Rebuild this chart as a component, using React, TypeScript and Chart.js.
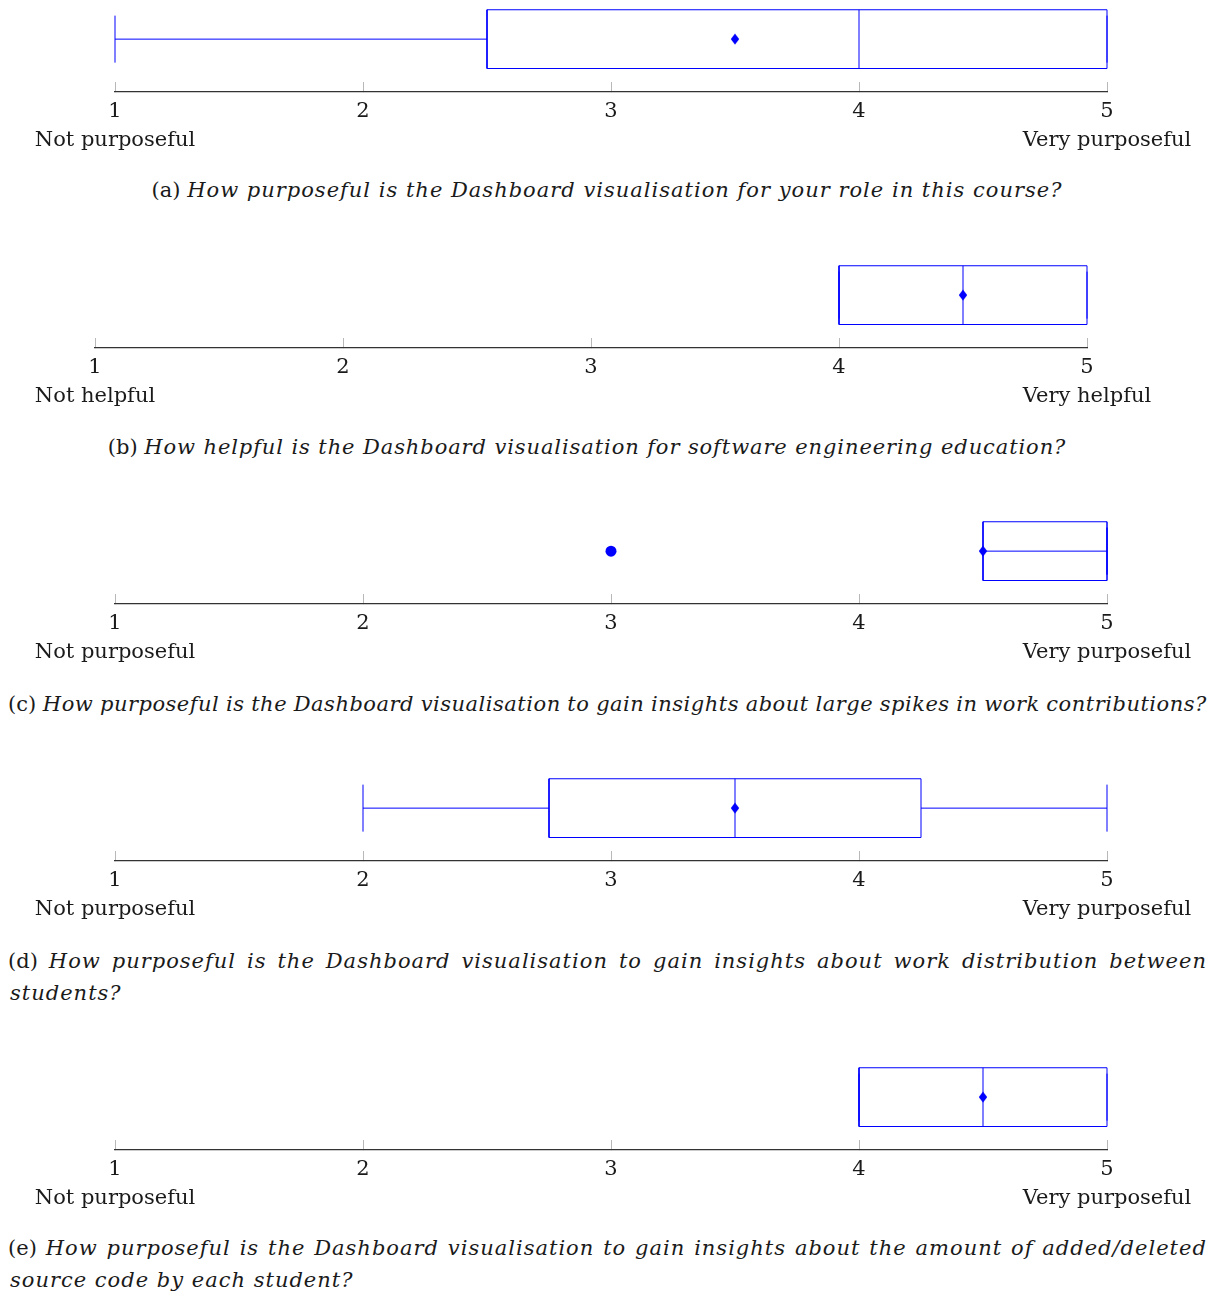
import React, { useEffect, useRef } from "react";
import { Chart, registerables } from "chart.js";

Chart.register(...registerables);

// ---------- data ----------
const xTicks = [1, 2, 3, 4, 5];
const panelIds = ["a", "b", "c", "d", "e"];
const lowLabels = ["Not purposeful", "Not helpful", "Not purposeful", "Not purposeful", "Not purposeful"];
const highLabels = ["Very purposeful", "Very helpful", "Very purposeful", "Very purposeful", "Very purposeful"];
const lowerWhisker = [1, 4, 5, 2, 4];
const lowerQuartile = [2.5, 4, 4.5, 2.75, 4];
const medians = [4, 4.5, 5, 3.5, 4.5];
const upperQuartile = [5, 5, 5, 4.25, 5];
const upperWhisker = [5, 5, 5, 5, 5];
const means = [3.5, 4.5, 4.5, 3.5, 4.5];
const outliers: number[][] = [[], [], [3], [], []];
const captionLine1 = [
  "How purposeful is the Dashboard visualisation for your role in this course?",
  "How helpful is the Dashboard visualisation for software engineering education?",
  "How purposeful is the Dashboard visualisation to gain insights about large spikes in work contributions?",
  "How purposeful is the Dashboard visualisation to gain insights about work distribution between",
  "How purposeful is the Dashboard visualisation to gain insights about the amount of added/deleted",
];
const captionLine2 = ["", "", "", "students?", "source code by each student?"];

// ---------- layout ----------
const W = 1215;
const BLUE = "rgb(0,0,255)";
const FONT = "'DejaVu Serif', serif";
const TICK_FONT_SIZE = 21;
const CAPTION_FONT_SIZE = 21;
const italicSpacing = ["1px", "0.9px", "0.5px", "1px", "1px"];
const panelCenters = [38, 294, 550, 807, 1096];
const axisLeft = [115, 95, 115, 115, 115];
const axisWidth = 992;
const captionMode = ["center", "center", "justify", "justify", "justify"];
const captionCenterX = [607, 587, 0, 0, 0];
const captionY = [190, 447, 704, 961, 1248];
const PAD_TOP = 5;
const Y_MIN = -0.9;
const Y_MAX = 0.7;
const PX_PER_Y = 60;
const AXIS_H = 70;
const CANVAS_H = PAD_TOP + (Y_MAX - Y_MIN) * PX_PER_Y + AXIS_H;

function makeDiamond(): HTMLCanvasElement {
  const c = document.createElement("canvas");
  c.width = 10;
  c.height = 12;
  const ctx = c.getContext("2d")!;
  ctx.fillStyle = BLUE;
  ctx.beginPath();
  ctx.moveTo(5, 0.5);
  ctx.lineTo(9.2, 6);
  ctx.lineTo(5, 11.5);
  ctx.lineTo(0.8, 6);
  ctx.closePath();
  ctx.fill();
  return c;
}

function Panel({ i }: { i: number }) {
  const ref = useRef<HTMLCanvasElement>(null);
  useEffect(() => {
    const lw = lowerWhisker[i];
    const q1 = lowerQuartile[i];
    const med = medians[i];
    const q3 = upperQuartile[i];
    const uw = upperWhisker[i];
    const H = 0.5;
    const C = 0.4;
    const line = (pts: { x: number; y: number }[]) => ({
      data: pts,
      showLine: true,
      borderColor: BLUE,
      backgroundColor: BLUE,
      borderWidth: 1,
      pointRadius: 0,
      clip: false as any,
      fill: false,
    });
    const datasets: any[] = [
      line([{ x: q1, y: -H }, { x: q3, y: -H }, { x: q3, y: H }, { x: q1, y: H }, { x: q1, y: -H }]),
      line([{ x: med, y: -H }, { x: med, y: H }]),
      line([{ x: lw, y: 0 }, { x: q1, y: 0 }]),
      line([{ x: lw, y: -C }, { x: lw, y: C }]),
      line([{ x: q3, y: 0 }, { x: uw, y: 0 }]),
      line([{ x: uw, y: -C }, { x: uw, y: C }]),
      {
        data: [{ x: means[i], y: 0 }],
        pointStyle: makeDiamond(),
        pointRadius: 6,
        clip: false,
      },
      {
        data: outliers[i].map((v) => ({ x: v, y: 0 })),
        pointStyle: "circle",
        pointRadius: 5.5,
        backgroundColor: BLUE,
        borderColor: BLUE,
        borderWidth: 0,
        clip: false,
      },
    ];
    const chart = new Chart(ref.current!, {
      type: "scatter",
      data: { datasets },
      options: {
        animation: false,
        responsive: false,
        events: [],
        layout: {
          padding: { left: axisLeft[i], right: W - axisLeft[i] - axisWidth, top: PAD_TOP, bottom: 0 },
        },
        plugins: { legend: { display: false }, tooltip: { enabled: false } },
        scales: {
          x: {
            type: "linear",
            position: "bottom",
            min: xTicks[0],
            max: xTicks[xTicks.length - 1],
            afterBuildTicks: (s: any) => {
              s.ticks = xTicks.map((v) => ({ value: v }));
            },
            afterFit: (s: any) => {
              s.height = AXIS_H;
            },
            grid: {
              display: true,
              drawOnChartArea: false,
              drawTicks: true,
              tickLength: -10,
              tickColor: "#b8b8b8",
              tickWidth: 1,
            },
            border: { display: true, color: "#333", width: 1.2 },
            ticks: {
              padding: 15,
              color: "#1a1a1a",
              autoSkip: false,
              maxRotation: 0,
              font: { family: FONT, size: TICK_FONT_SIZE, lineHeight: "29px" as any },
              callback: (v: any) => {
                const n = Number(v);
                if (n === xTicks[0]) return [String(n), lowLabels[i]];
                if (n === xTicks[xTicks.length - 1]) return [String(n), highLabels[i]];
                return String(n);
              },
            },
          },
          y: { type: "linear", min: Y_MIN, max: Y_MAX, display: false },
        },
      } as any,
    });
    return () => chart.destroy();
  }, [i]);
  return (
    <canvas
      ref={ref}
      width={W}
      height={CANVAS_H}
      style={{
        position: "absolute",
        left: 0,
        top: panelCenters[i] - PAD_TOP - Y_MAX * PX_PER_Y,
        width: W,
        height: CANVAS_H,
        display: "block",
      }}
    />
  );
}

function Caption({ i }: { i: number }) {
  const base: React.CSSProperties = {
    position: "absolute",
    fontFamily: FONT,
    fontSize: CAPTION_FONT_SIZE,
    lineHeight: "32px",
    color: "#1a1a1a",
    whiteSpace: "nowrap",
  };
  const ital: React.CSSProperties = { fontStyle: "italic", letterSpacing: italicSpacing[i] };
  if (captionMode[i] === "center") {
    return (
      <div
        style={{
          ...base,
          left: captionCenterX[i] - 600,
          width: 1200,
          top: captionY[i] - 16,
          textAlign: "center",
        }}
      >
        ({panelIds[i]}) <span style={ital}>{captionLine1[i]}</span>
      </div>
    );
  }
  const words = captionLine1[i].split(" ");
  return (
    <>
      <div
        style={{
          ...base,
          left: 8,
          width: 1199,
          top: captionY[i] - 16,
          display: "flex",
          justifyContent: "space-between",
        }}
      >
        <span>({panelIds[i]})</span>
        {words.map((w, k) => (
          <span key={k} style={ital}>
            {w}
          </span>
        ))}
      </div>
      {captionLine2[i] && (
        <div style={{ ...base, left: 10, top: captionY[i] + 32 - 16 }}>
          <span style={ital}>{captionLine2[i]}</span>
        </div>
      )}
    </>
  );
}

export default function App() {
  return (
    <div
      style={{
        position: "absolute",
        left: 0,
        top: 0,
        width: W,
        height: 1294,
        background: "#fff",
        overflow: "hidden",
      }}
    >
      {panelIds.map((_, i) => (
        <Panel key={"p" + i} i={i} />
      ))}
      {panelIds.map((_, i) => (
        <Caption key={"c" + i} i={i} />
      ))}
    </div>
  );
}
